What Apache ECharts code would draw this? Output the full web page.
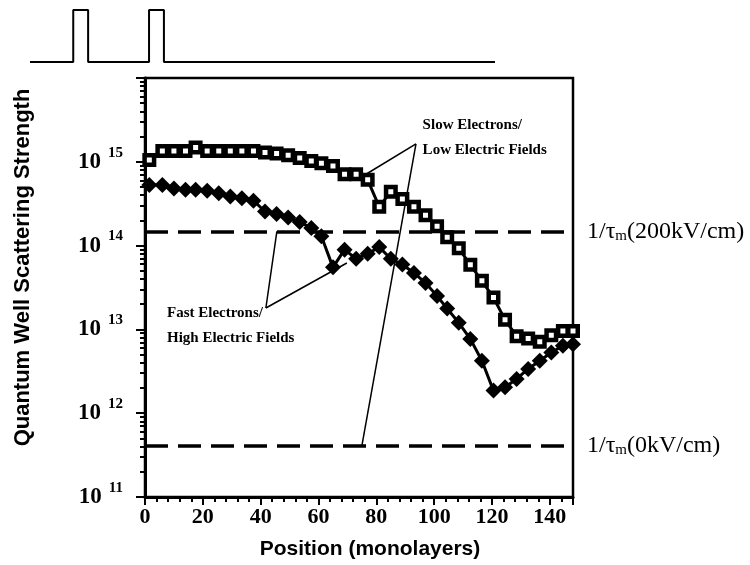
<!DOCTYPE html>
<html>
<head>
<meta charset="utf-8">
<script src="https://cdn.jsdelivr.net/npm/echarts@6/dist/echarts.min.js"></script>
<style>
html, body { margin: 0; background: #fff; }
#cn { width: 750px; height: 565px; }
</style>
</head>
<body>
<div id="cn"></div>
<script>
'use strict';

// position in monolayers
const POSITION = [1.5, 6, 10, 14, 17.5, 21.5, 25.5, 29.5, 33.5, 37.5, 41.5, 45.5, 49.5, 53.5, 57.5,
	61, 65, 69, 73, 77, 81, 85, 89, 93, 97, 101, 104.5, 108.5, 112.5, 116.5, 120.5, 124.5, 128.5,
	132.5, 136.5, 140.5, 144.5, 148];

// slow electrons / low fields (open squares)
const SLOW = [1.05e15, 1.35e15, 1.35e15, 1.35e15, 1.48e15, 1.35e15, 1.35e15, 1.35e15, 1.35e15, 1.35e15,
	1.29e15, 1.26e15, 1.20e15, 1.11e15, 1.02e15, 9.6e14, 8.9e14, 7.1e14, 7.1e14, 6.1e14,
	2.9e14, 4.4e14, 3.6e14, 2.9e14, 2.3e14, 1.7e14, 1.26e14, 9.3e13, 5.9e13, 3.8e13,
	2.4e13, 1.3e13, 8.3e12, 7.8e12, 7.1e12, 8.5e12, 9.6e12, 9.6e12];

// fast electrons / high fields (diamonds)
const FAST = [5.3e14, 5.3e14, 4.8e14, 4.65e14, 4.65e14, 4.5e14, 4.2e14, 3.85e14, 3.67e14, 3.44e14,
	2.55e14, 2.38e14, 2.16e14, 1.91e14, 1.62e14, 1.29e14, 5.5e13, 8.95e13, 6.97e13, 7.98e13,
	9.6e13, 6.97e13, 5.94e13, 4.72e13, 3.59e13, 2.5e13, 1.77e13, 1.2e13, 7.7e12, 4.23e12,
	1.86e12, 2.04e12, 2.56e12, 3.37e12, 4.23e12, 5.3e12, 6.37e12, 6.67e12];

const X_TICKS = [0, 20, 40, 60, 80, 100, 120, 140];
const Y_EXPONENTS = [11, 12, 13, 14, 15];

// 1/tau_m reference levels
const TAU_LEVELS = [1.48e14, 4.1e11];
const TAU_NAMES = ['200kV/cm', '0kV/cm'];

// well profile sketch on top
const WELL_X = [0, 9.3, 9.3, 12.5, 12.5, 25.6, 25.6, 28.8, 28.8, 100];
const WELL_Y = [0, 0, 1, 1, 0, 0, 1, 1, 0, 0];

// pointer lines [from, to] and the captions
const SLOW_POINTERS = [[[93.7, 1.64e15], [76.7, 7.2e14]], [[93.7, 1.64e15], [75, 4.1e11]]];
const FAST_POINTERS = [[[41.8, 1.8e13], [45.6, 1.48e14]], [[41.8, 1.8e13], [69.8, 6.2e13]]];
const CAPTIONS = [
	['Slow Electrons/', 96, 2.76e15],
	['Low Electric Fields', 96, 1.38e15],
	['Fast Electrons/', 7.6, 1.57e13],
	['High Electric Fields', 7.6, 7.9e12]
];

const SERIF = '"Liberation Serif", "DejaVu Serif", serif';
const SANS = '"Liberation Sans", Arial, sans-serif';
const INK = '#000';

const pointerData = arr => arr.map(p => [{ coord: p[0] }, { coord: p[1] }]);

let chart = echarts.init(document.getElementById('cn'), null, { renderer: 'canvas' });

let option = {
	animation: false,
	backgroundColor: '#fff',
	grid: [{
		left: 145, right: 177, top: 78, bottom: 68,
		show: true, borderColor: INK, borderWidth: 2.5, backgroundColor: 'transparent'
	}, {
		left: 30, width: 465, top: 10, height: 52
	}],
	xAxis: [{
		type: 'value', gridIndex: 0, min: 0, max: 148, interval: 20,
		axisLine: { onZero: false, lineStyle: { color: INK, width: 3 } },
		axisTick: { length: 8, lineStyle: { color: INK, width: 2 } },
		minorTick: { show: true, splitNumber: 5, length: 5, lineStyle: { color: INK, width: 2 } },
		splitLine: { show: false },
		axisLabel: {
			showMaxLabel: false, margin: 9, color: INK,
			fontFamily: SERIF, fontWeight: 'bold', fontSize: 22,
			formatter: v => X_TICKS.includes(v) ? String(v) : ''
		},
		name: 'Position (monolayers)', nameLocation: 'middle', nameGap: 42,
		nameTextStyle: { color: INK, fontFamily: SANS, fontWeight: 'bold', fontSize: 21, padding: [0, 0, 0, 22] }
	}, {
		type: 'value', gridIndex: 1, min: 0, max: 100, show: false
	}],
	yAxis: [{
		type: 'log', logBase: 10, gridIndex: 0, min: 1e11, max: 1e16,
		axisLine: { lineStyle: { color: INK, width: 3 } },
		axisTick: { length: 9, lineStyle: { color: INK, width: 2 } },
		minorTick: { show: true, splitNumber: 9, length: 5, lineStyle: { color: INK, width: 2 } },
		splitLine: { show: false },
		axisLabel: {
			margin: 22,
			formatter: v => {
				let e = Math.round(Math.log10(v));
				return Y_EXPONENTS.includes(e) ? `{b|10}{s|${e}}` : '';
			},
			rich: {
				b: { fontFamily: SERIF, fontWeight: 'bold', fontSize: 23, color: INK },
				s: { fontFamily: SERIF, fontWeight: 'bold', fontSize: 15, color: INK, padding: [0, 0, 18, 7] }
			}
		},
		name: 'Quantum Well Scattering Strength', nameLocation: 'middle', nameGap: 111,
		nameTextStyle: { color: INK, fontFamily: SANS, fontWeight: 'bold', fontSize: 22, padding: [0, 0, 0, 40] }
	}, {
		type: 'value', gridIndex: 1, min: 0, max: 1, show: false
	}],
	series: [{
		type: 'line', xAxisIndex: 1, yAxisIndex: 1,
		data: WELL_X.map((x, i) => [x, WELL_Y[i]]),
		symbol: 'none', lineStyle: { color: INK, width: 2 }, silent: true
	}, {
		name: 'fast', type: 'line', z: 3,
		data: POSITION.map((x, i) => [x, FAST[i]]),
		symbol: 'diamond', symbolSize: 16,
		itemStyle: { color: INK },
		lineStyle: { color: INK, width: 3 },
		markLine: {
			silent: true, symbol: ['none', 'none'],
			lineStyle: { color: INK, width: 3.5, type: [23, 10] },
			label: {
				show: true, position: 'end', distance: 14,
				formatter: p => `{a|1/τ}{m|m}{a|(${TAU_NAMES[p.dataIndex]})}`,
				rich: {
					a: { fontFamily: SERIF, fontSize: 24, color: INK },
					m: { fontFamily: SERIF, fontSize: 15, color: INK, padding: [9, 0, 0, 0] }
				}
			},
			data: TAU_LEVELS.map(v => ({ yAxis: v }))
		}
	}, {
		name: 'slow', type: 'line', z: 4,
		data: POSITION.map((x, i) => [x, SLOW[i]]),
		symbol: 'rect', symbolSize: 9.5,
		itemStyle: { color: '#fff', borderColor: INK, borderWidth: 4.5 },
		lineStyle: { color: INK, width: 3 },
		markLine: {
			silent: true, symbol: ['none', 'none'],
			lineStyle: { color: INK, width: 1.5, type: 'solid' },
			label: { show: false },
			data: pointerData(SLOW_POINTERS).concat(pointerData(FAST_POINTERS))
		},
		markPoint: {
			silent: true, symbol: 'rect', symbolSize: 0,
			label: {
				show: true, position: 'right', distance: 0, formatter: '{b}',
				fontFamily: SERIF, fontWeight: 'bold', fontSize: 15, color: INK
			},
			data: CAPTIONS.map(c => ({ name: c[0], coord: [c[1], c[2]] }))
		}
	}]
};

chart.setOption(option);
</script>
</body>
</html>
